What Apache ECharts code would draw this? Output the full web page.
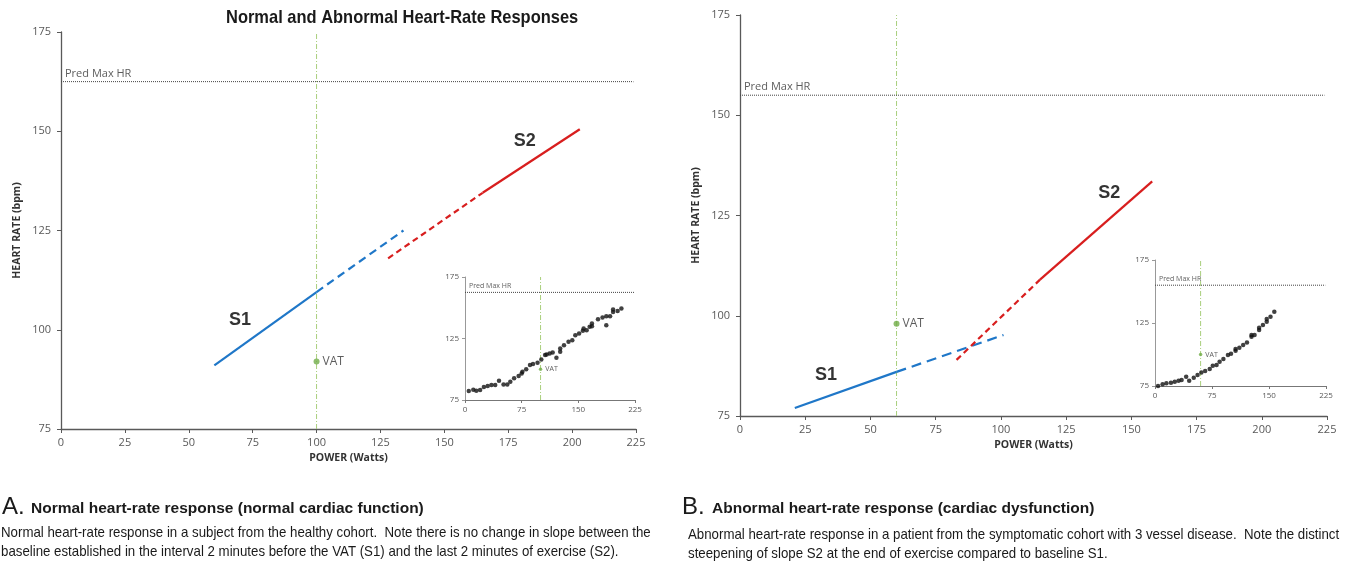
<!DOCTYPE html>
<html>
<head>
<meta charset="utf-8">
<title>Normal and Abnormal Heart-Rate Responses</title>
<script src="https://cdn.jsdelivr.net/npm/echarts@6/dist/echarts.min.js"></script>
<style>
  html, body { margin: 0; padding: 0; background: #fff; }
  #chart { width: 1346px; height: 564px; }
</style>
</head>
<body>
<div id="chart"></div>
<script>
// ---- panel A (normal) ----
const aPredMaxHR = 162.5
const aVat = [[100, 92]]
const aVatLine = [[100, 75], [100, 175]]
const aS1Solid = [[60, 91], [100, 109.5]]
const aS1Dashed = [[100, 109.5], [134, 125]]
const aS2Dashed = [[128, 118], [165, 134.5]]
const aS2Solid = [[165, 134.5], [203, 150.5]]
const aLabelS1 = [[70, 102.5]]
const aLabelS2 = [[181.5, 147.5]]
const aInsetVat = [[100, 100]]
const aInsetPoints = [
  [5, 82.3], [11, 83.4], [15, 82.6], [20, 83.1], [25, 85.5], [30, 86.3], [35, 87.2],
  [40, 87.2], [45, 90.7], [51, 87.7], [56, 87.7], [60, 89.9], [65, 92.6], [71, 94.5],
  [75, 96.6], [76, 98], [81, 99.9], [86, 103.4], [90, 104.2], [96, 105.3], [101, 108],
  [106, 111.5], [108, 112], [112, 112.8], [116, 113.6], [121, 109.3], [126, 116.9],
  [126, 114.2], [131, 119.6], [137, 122.3], [142, 123.6], [146, 127.7], [151, 129],
  [156, 131.2], [157, 133.1], [161, 131.8], [165, 134.5], [168, 137.2], [168, 135],
  [176, 140.7], [182, 142], [187, 143.1], [187, 135.8], [192, 143.1], [196, 146.6],
  [196, 148.5], [202, 147.4], [207, 149.3]
]

// ---- panel B (abnormal) ----
const bPredMaxHR = 155
const bVat = [[60, 98]]
const bVatLine = [[60, 75], [60, 175]]
const bS1Solid = [[21, 77], [60, 86]]
const bS1Dashed = [[60, 86], [101, 95.2]]
const bS2Dashed = [[83, 89], [115, 109]]
const bS2Solid = [[115, 109], [158, 133.5]]
const bLabelS1 = [[33, 85.2]]
const bLabelS2 = [[141.5, 130.6]]
const bInsetVat = [[60, 100]]
const bInsetPoints = [
  [4, 75], [10, 76.3], [15, 77.1], [21, 77.6], [26, 78.4], [31, 79.2], [35, 79.7],
  [41, 82.4], [45, 79.2], [51, 81.6], [56, 83.7], [61, 85.8], [66, 86.9], [72, 88.5],
  [76, 91.1], [81, 91.7], [85, 94.3], [90, 96.4], [96, 99.6], [100, 100.6], [106, 103],
  [106, 104.3], [111, 105.4], [116, 107.5], [121, 109.6], [127, 114.1], [127, 115.5],
  [131, 115.5], [137, 119.4], [137, 121.3], [142, 123.4], [147, 126], [147, 128.2],
  [152, 130], [157, 134]
]

const powerTicks = [0, 225, 25]
const hrTicks = [75, 175, 25]
const insetPowerTicks = [0, 225, 75]
const insetHrTicks = [75, 175, 50]

const BLUE = '#1f77c8'
const RED = '#d81e1e'
const GREEN = '#70ad47'
const AXIS = '#595959'
const FONT = '"Open Sans", "Liberation Sans", sans-serif'
const ARIAL = '"Liberation Sans", Arial, sans-serif'

function mainX (grid) {
  return {
    gridIndex: grid, type: 'value', min: powerTicks[0], max: powerTicks[1], interval: powerTicks[2],
    name: 'POWER (Watts)', nameLocation: 'middle', nameGap: 24,
    nameTextStyle: { fontFamily: FONT, fontWeight: 'bold', fontSize: 10.5, color: '#333' },
    axisLine: { lineStyle: { color: AXIS, width: 1.3 } },
    axisTick: { length: 4, lineStyle: { color: AXIS } },
    axisLabel: { fontFamily: FONT, fontSize: 11, color: AXIS, margin: 8 },
    splitLine: { show: false }
  }
}
function mainY (grid) {
  return {
    gridIndex: grid, type: 'value', min: hrTicks[0], max: hrTicks[1], interval: hrTicks[2],
    name: 'HEART RATE (bpm)', nameLocation: 'middle', nameGap: 38, nameRotate: 90,
    nameTextStyle: { fontFamily: FONT, fontWeight: 'bold', fontSize: 10.5, color: '#333' },
    axisLine: { show: true, lineStyle: { color: AXIS, width: 1.3 } },
    axisTick: { show: true, length: 4, lineStyle: { color: AXIS } },
    axisLabel: { fontFamily: FONT, fontSize: 11, color: AXIS, margin: 10 },
    splitLine: { show: false }
  }
}
function insetX (grid) {
  return {
    gridIndex: grid, type: 'value', min: insetPowerTicks[0], max: insetPowerTicks[1], interval: insetPowerTicks[2],
    axisLine: { lineStyle: { color: '#777', width: 1 } },
    axisTick: { length: 3, lineStyle: { color: '#777' } },
    axisLabel: { fontFamily: FONT, fontSize: 8, color: AXIS, margin: 6 },
    splitLine: { show: false }
  }
}
function insetY (grid) {
  return {
    gridIndex: grid, type: 'value', min: insetHrTicks[0], max: insetHrTicks[1], interval: insetHrTicks[2],
    axisLine: { show: true, lineStyle: { color: '#999', width: 1 } },
    axisTick: { show: true, length: 3, lineStyle: { color: '#999' } },
    axisLabel: { fontFamily: FONT, fontSize: 8, color: AXIS, margin: 6 },
    splitLine: { show: false }
  }
}

function seg (idx, data, color, type) {
  return {
    type: 'line', xAxisIndex: idx, yAxisIndex: idx, data: data, symbol: 'none', silent: true,
    lineStyle: { color: color, width: 2.2, type: type }, z: 3
  }
}
function predLine (idx, y) {
  return {
    type: 'line', xAxisIndex: idx, yAxisIndex: idx, symbol: 'none', silent: true,
    data: [[0, y], [224, y]],
    lineStyle: { color: '#444', width: 1, type: [1, 1] }
  }
}
function predLabel (idx, y, fontSize, lift) {
  return {
    type: 'scatter', xAxisIndex: idx, yAxisIndex: idx, data: [[0, y]], symbolSize: 0, silent: true,
    label: {
      show: true, position: 'right', distance: 4, offset: [0, -lift], formatter: 'Pred Max HR',
      fontFamily: FONT, fontSize: fontSize, color: '#333'
    }
  }
}
function vatLine (idx, data) {
  return {
    type: 'line', xAxisIndex: idx, yAxisIndex: idx, data: data, symbol: 'none', silent: true,
    lineStyle: { color: '#a9cf7c', width: 1, type: [5, 2, 1, 2] }, z: 1
  }
}
function vatPoint (idx, data, size, fontSize) {
  return {
    type: 'scatter', xAxisIndex: idx, yAxisIndex: idx, data: data, symbolSize: size, silent: true,
    itemStyle: { color: GREEN },
    label: { show: true, position: 'right', formatter: 'VAT', distance: 3, fontFamily: FONT, fontSize: fontSize, color: '#333' },
    z: 4
  }
}
function sLabel (idx, data, text) {
  return {
    type: 'scatter', xAxisIndex: idx, yAxisIndex: idx, data: data, symbolSize: 0, silent: true,
    label: { show: true, position: 'inside', formatter: text, fontFamily: ARIAL, fontWeight: 'bold', fontSize: 18, color: '#000' }
  }
}
function dots (idx, data) {
  return {
    type: 'scatter', xAxisIndex: idx, yAxisIndex: idx, data: data, symbolSize: 4.5, silent: true,
    itemStyle: { color: '#111' }, z: 3
  }
}
// narrow text: Arial Narrow is not installed, so squeeze Liberation Sans horizontally
function narrowText (x, y, text, size, weight, sx, lineHeight) {
  return {
    type: 'text', x: x, y: y, scaleX: sx, silent: true,
    style: {
      text: text, fontFamily: ARIAL, fontSize: size, fontWeight: weight,
      fill: '#1a1a1a', lineHeight: lineHeight || size * 1.3
    }
  }
}

const option = {
  backgroundColor: '#fff',
  animation: false,
  grid: [
    { left: 61, top: 32, width: 575, height: 397 },
    { left: 465, top: 277, width: 170, height: 123 },
    { left: 740, top: 15, width: 587, height: 401 },
    { left: 1155, top: 260, width: 171, height: 126 }
  ],
  xAxis: [mainX(0), insetX(1), mainX(2), insetX(3)],
  yAxis: [mainY(0), insetY(1), mainY(2), insetY(3)],
  graphic: [
    narrowText(226, 6, 'Normal and Abnormal Heart-Rate Responses', 18.5, 'bold', 0.89),
    narrowText(2, 492, 'A.', 24, 'normal', 1),
    narrowText(31, 499, 'Normal heart-rate response (normal cardiac function)', 15.5, 'bold', 1),
    narrowText(1, 523,
      'Normal heart-rate response in a subject from the healthy cohort.  Note there is no change in slope between the\nbaseline established in the interval 2 minutes before the VAT (S1) and the last 2 minutes of exercise (S2).',
      14.5, 'normal', 0.915, 19.5),
    narrowText(682, 492, 'B.', 24, 'normal', 1),
    narrowText(712, 499, 'Abnormal heart-rate response (cardiac dysfunction)', 15.5, 'bold', 1),
    narrowText(688, 526,
      'Abnormal heart-rate response in a patient from the symptomatic cohort with 3 vessel disease.  Note the distinct\nsteepening of slope S2 at the end of exercise compared to baseline S1.',
      14.5, 'normal', 0.915, 18.5)
  ],
  series: [
    // panel A main
    predLine(0, aPredMaxHR),
    predLabel(0, aPredMaxHR, 11, 8),
    vatLine(0, aVatLine),
    seg(0, aS1Solid, BLUE, 'solid'),
    seg(0, aS1Dashed, BLUE, [8, 5]),
    seg(0, aS2Dashed, RED, [6, 4]),
    seg(0, aS2Solid, RED, 'solid'),
    vatPoint(0, aVat, 6, 12),
    sLabel(0, aLabelS1, 'S1'),
    sLabel(0, aLabelS2, 'S2'),
    // panel A inset
    predLine(1, aPredMaxHR),
    predLabel(1, aPredMaxHR, 7, 6),
    vatLine(1, aVatLine),
    dots(1, aInsetPoints),
    vatPoint(1, aInsetVat, 3.5, 7),
    // panel B main
    predLine(2, bPredMaxHR),
    predLabel(2, bPredMaxHR, 11, 8),
    vatLine(2, bVatLine),
    seg(2, bS1Solid, BLUE, 'solid'),
    seg(2, bS1Dashed, BLUE, [10, 6]),
    seg(2, bS2Dashed, RED, [6, 4]),
    seg(2, bS2Solid, RED, 'solid'),
    vatPoint(2, bVat, 6, 12),
    sLabel(2, bLabelS1, 'S1'),
    sLabel(2, bLabelS2, 'S2'),
    // panel B inset
    predLine(3, bPredMaxHR),
    predLabel(3, bPredMaxHR, 7, 6),
    vatLine(3, bVatLine),
    dots(3, bInsetPoints),
    vatPoint(3, bInsetVat, 3.5, 7)
  ]
}

const chart = echarts.init(document.getElementById('chart'))
chart.setOption(option)
window.addEventListener('resize', () => chart.resize())
</script>
</body>
</html>
